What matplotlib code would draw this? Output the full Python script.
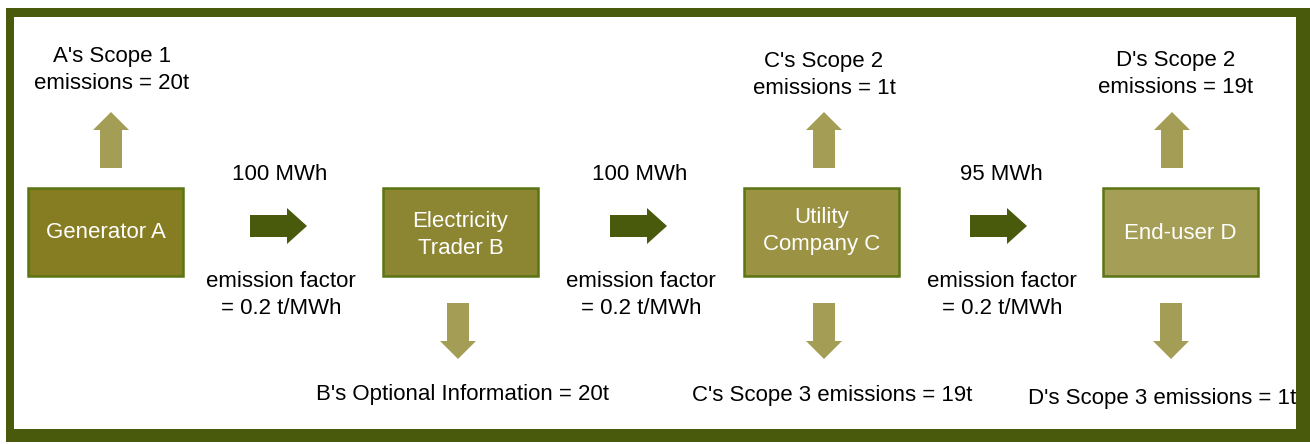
import matplotlib.pyplot as plt
from matplotlib.patches import Rectangle, FancyArrow
from matplotlib import font_manager

# Labels
box_labels = ['Generator A', 'Electricity\nTrader B', 'Utility\nCompany C', 'End-user D']
flow_amounts = ['100 MWh', '100 MWh', '95 MWh']
flow_factors = ['emission factor\n= 0.2 t/MWh'] * 3
up_labels = ["A's Scope 1\nemissions = 20t", "C's Scope 2\nemissions = 1t", "D's Scope 2\nemissions = 19t"]
down_labels = ["B's Optional Information = 20t", "C's Scope 3 emissions = 19t", "D's Scope 3 emissions = 1t"]

# Layout (pixel coordinates)
W, H = 1310, 444
BOX_X = [28, 383, 744, 1103]
BOX_Y = 188
BOX_W, BOX_H = 155, 88
BOX_TEXT_Y = [232, 235, 231, 233]
BOX_COLORS = ['#867d22', '#8c8532', '#9b9244', '#a59e57']
FLOW_X = [250, 610, 970]
FLOW_TEXT_X = [281, 641, 1002]
UP_X = [111, 824, 1172]
UP_TEXT_X = [112, 824, 1176]
UP_TEXT_Y = [70, 75, 74]
DOWN_X = [458, 824, 1171]
DOWN_TEXT_X = [462, 832, 1162]
DOWN_TEXT_Y = [394, 395, 398]

DARK = '#4a5a0c'
LIGHT = '#a49d55'

available = {f.name for f in font_manager.fontManager.ttflist}
family = 'Liberation Sans Narrow' if 'Liberation Sans Narrow' in available else 'Liberation Sans'
plt.rcParams['font.family'] = family

fig = plt.figure(figsize=(W / 100, H / 100), dpi=100)
ax = fig.add_axes([0, 0, 1, 1])
ax.set_xlim(0, W)
ax.set_ylim(H, 0)
ax.axis('off')

FS = 16
LS = 1.4

# Boxes
for x, label, ty, c in zip(BOX_X, box_labels, BOX_TEXT_Y, BOX_COLORS):
    ax.add_patch(Rectangle((x, BOX_Y), BOX_W, BOX_H, facecolor=c, edgecolor='#5b7414', linewidth=1.8))
    ax.text(x + BOX_W / 2, ty, label, color='white', fontsize=FS, ha='center', va='center', linespacing=LS)

# Horizontal flow arrows
for x, tx, amt, fac in zip(FLOW_X, FLOW_TEXT_X, flow_amounts, flow_factors):
    ax.add_patch(FancyArrow(x, 226, 57, 0, width=22, head_width=36, head_length=20,
                            length_includes_head=True, color=DARK, linewidth=0))
    ax.text(tx - 1, 174, amt, fontsize=FS, ha='center', va='center')
    ax.text(tx, 295, fac, fontsize=FS, ha='center', va='center', linespacing=LS)

# Up arrows (emissions)
for x, tx, ty, label in zip(UP_X, UP_TEXT_X, UP_TEXT_Y, up_labels):
    ax.add_patch(FancyArrow(x, 168, 0, -56, width=22, head_width=36, head_length=18,
                            length_includes_head=True, color=LIGHT, linewidth=0))
    ax.text(tx, ty, label, fontsize=FS, ha='center', va='center', linespacing=LS)

# Down arrows
for x, tx, ty, label in zip(DOWN_X, DOWN_TEXT_X, DOWN_TEXT_Y, down_labels):
    ax.add_patch(FancyArrow(x, 303, 0, 56, width=22, head_width=36, head_length=18,
                            length_includes_head=True, color=LIGHT, linewidth=0))
    ax.text(tx, ty, label, fontsize=FS, ha='center', va='center')

# Outer frame
for (x0, y0, w, h) in [(6, 8, 1304, 9), (6, 8, 8, 434), (1296, 8, 14, 434), (6, 429, 1304, 13)]:
    ax.add_patch(Rectangle((x0, y0), w, h, facecolor=DARK, edgecolor='none', zorder=5))

plt.savefig('out.png', dpi=100)
plt.close()
